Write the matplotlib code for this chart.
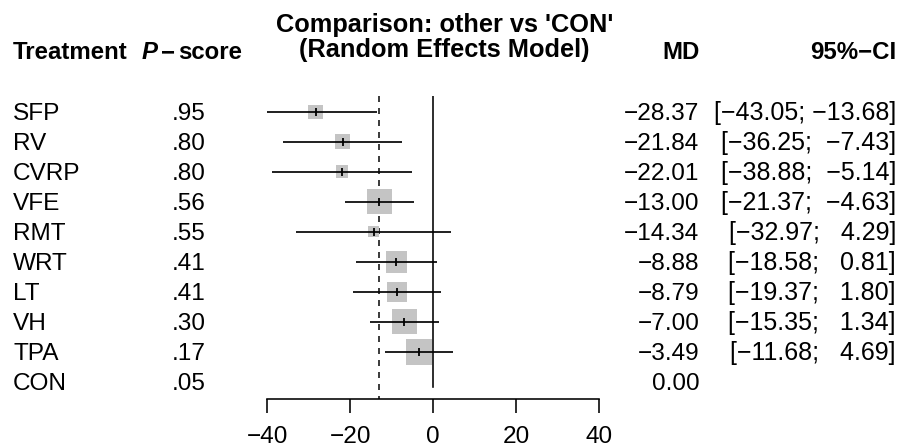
import numpy as np
import matplotlib
matplotlib.use("Agg")
import matplotlib.pyplot as plt
import matplotlib.transforms as mtransforms

plt.rcParams['font.family'] = ['Liberation Sans', 'DejaVu Sans']
plt.rcParams['font.size'] = 12

# ---- data ----
treatments = ["SFP", "RV", "CVRP", "VFE", "RMT", "WRT", "LT", "VH", "TPA", "CON"]
pscore = [0.95, 0.80, 0.80, 0.56, 0.55, 0.41, 0.41, 0.30, 0.17, 0.05]
md = [-28.37, -21.84, -22.01, -13.00, -14.34, -8.88, -8.79, -7.00, -3.49, 0.00]
lower = [-43.05, -36.25, -38.88, -21.37, -32.97, -18.58, -19.37, -15.35, -11.68, np.nan]
upper = [-13.68, -7.43, -5.14, -4.63, 4.29, 0.81, 1.80, 1.34, 4.69, np.nan]
pooled_md = -13.00
xticks = [-40, -20, 0, 20, 40]

W, H = 897, 448
DPI = 144
fig = plt.figure(figsize=(W / DPI, H / DPI), dpi=DPI)

# axes placement (pixels)
ax_left, ax_right, ax_top, ax_bottom = 267.3, 599.3, 96.0, 398.7
row0, rowstep = 111.7, 30.0
ax = fig.add_axes([ax_left / W, 1 - ax_bottom / H, (ax_right - ax_left) / W, (ax_bottom - ax_top) / H])
ymin = (ax_top - row0) / rowstep
ymax = (ax_bottom - row0) / rowstep
ax.set_xlim(-40, 40)
ax.set_ylim(ymax, ymin)
ax.patch.set_visible(False)
for s in ["top", "right", "left"]:
    ax.spines[s].set_visible(False)
ax.spines["bottom"].set_linewidth(0.8)
ax.set_yticks([])
ax.set_xticks(xticks)
ax.set_xticklabels([str(t).replace("-", "\u2212") for t in xticks])
ax.tick_params(axis="x", direction="out", length=7, width=0.8, pad=6.5, labelsize=12.2)

n = len(treatments)
rows = np.arange(n)
md_a = np.array(md)
lo_a = np.array(lower)
up_a = np.array(upper)

# reference lines
ax.plot([0, 0], [ymin, 9.17], color="black", lw=0.8, zorder=1)
ax.plot([pooled_md, pooled_md], [ymin, ymax], color="black", lw=0.75,
        dashes=(4, 4), zorder=1)

valid = ~np.isnan(lo_a)
# squares sized by precision (1 / CI width)
side_pt = 210.0 / (up_a[valid] - lo_a[valid])
ax.scatter(md_a[valid], rows[valid], s=side_pt ** 2, marker="s", color="#c4c4c4",
           edgecolors="none", zorder=2)
ax.hlines(rows[valid], lo_a[valid], up_a[valid], color="black", lw=0.85, zorder=3)
ax.scatter(md_a[valid], rows[valid], s=14, marker="|", color="black",
           linewidths=0.9, zorder=4)

# ---- text columns ----
cap_off = mtransforms.ScaledTranslation(0, -4.35 / 72, fig.dpi_scale_trans)
row_tr = mtransforms.blended_transform_factory(fig.transFigure, ax.transData) + cap_off


def fx(px):
    return px / W


def fy(py):
    return 1 - py / H


def fmt_num(v):
    return f"{v:.2f}".replace("-", "\u2212")


def fmt_p(v):
    return f"{v:.2f}"[1:]


lo_strs = [f"{v:.2f}" for v in lower[:-1]]
up_strs = [f"{v:.2f}" for v in upper[:-1]]
lw_ = max(len(s) for s in lo_strs)
uw_ = max(len(s) for s in up_strs)

FS = 12.2
for i in range(n):
    ax.text(fx(13), i, treatments[i], transform=row_tr, ha="left", va="baseline", fontsize=FS)
    ax.text(fx(189), i, fmt_p(pscore[i]), transform=row_tr, ha="center", va="baseline", fontsize=FS)
    ax.text(fx(699.5), i, fmt_num(md[i]), transform=row_tr, ha="right", va="baseline", fontsize=FS)
    if not np.isnan(lower[i]):
        s = "[" + lo_strs[i].rjust(lw_) + "; " + up_strs[i].rjust(uw_) + "]"
        ax.text(fx(896), i, s.replace("-", "\u2212"), transform=row_tr,
                ha="right", va="baseline", fontsize=12.5)

# headers
hb = 59
fig.text(fx(13), fy(hb), "Treatment", fontweight="bold", ha="left", va="baseline")
t_score = fig.text(fx(242), fy(hb), "score", fontweight="bold", ha="right", va="baseline")
fig.canvas.draw()
r = fig.canvas.get_renderer()
x0 = t_score.get_window_extent(r).x0 * W / fig.bbox.width
t_minus = fig.text(fx(x0 - 3), fy(hb), "\u2212", fontweight="bold", ha="right", va="baseline")
fig.canvas.draw()
x1 = t_minus.get_window_extent(r).x0 * W / fig.bbox.width
fig.text(fx(x1 - 3), fy(hb), "P", fontweight="bold", fontstyle="italic",
         ha="right", va="baseline")
fig.text(fx(699.5), fy(hb), "MD", fontweight="bold", ha="right", va="baseline")
fig.text(fx(896), fy(hb), "95%\u2212CI", fontweight="bold", ha="right", va="baseline")
fig.text(fx(445), fy(32), "Comparison: other vs 'CON'", fontweight="bold",
         ha="center", va="baseline", fontsize=12.7)
fig.text(fx(444), fy(57), "(Random Effects Model)", fontweight="bold",
         ha="center", va="baseline", fontsize=12.7)

fig.savefig("out.png", dpi=DPI)
